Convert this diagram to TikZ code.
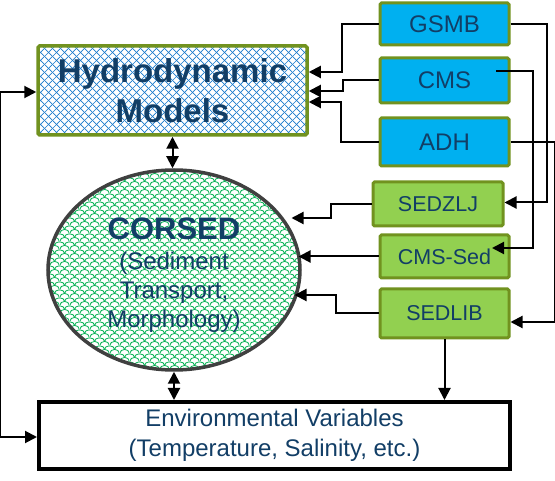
\documentclass[tikz,border=0pt]{standalone}
\usepackage{fontspec}
\setmainfont{Liberation Sans}
\usetikzlibrary{arrows.meta,patterns.meta,calc,backgrounds,shapes.geometric}
\definecolor{navy}{HTML}{123E66}
\definecolor{olivebd}{HTML}{71921F}
\definecolor{cyanfill}{HTML}{00B0F0}
\definecolor{greenfill}{HTML}{92D050}
\definecolor{hatchblue}{HTML}{1A7ACC}
\definecolor{scalegreen}{HTML}{00B050}
\definecolor{ellgray}{HTML}{404040}
\tikzdeclarepattern{
  name=scales, type=uncolored,
  bounding box={(0pt,0pt) and (10pt,8pt)},
  tile size={(10pt,8pt)},
  code={
    \draw[line width=0.9pt] (0pt,0pt) arc[start angle=180,end angle=0,x radius=5pt,y radius=4pt];
    \draw[line width=0.9pt] (-5pt,4pt) arc[start angle=180,end angle=0,x radius=5pt,y radius=4pt];
    \draw[line width=0.9pt] (5pt,4pt) arc[start angle=180,end angle=0,x radius=5pt,y radius=4pt];
  }
}
\tikzdeclarepattern{
  name=diamonds, type=uncolored,
  bounding box={(0pt,0pt) and (7.5pt,7.5pt)},
  tile size={(7.5pt,7.5pt)},
  code={
    \draw[line width=0.7pt] (-1pt,-1pt) -- (8.5pt,8.5pt);
    \draw[line width=0.7pt] (-1pt,8.5pt) -- (8.5pt,-1pt);
    \fill (3.75pt,3.75pt) circle[radius=0.7pt];
  }
}
\tikzset{
  hyd/.style={draw=olivebd, line width=3.5pt, rounded corners=1.5pt,
    pattern=diamonds, pattern color=hatchblue,
    minimum width=269pt, minimum height=89pt, inner sep=0pt, align=center,
    text=navy, font=\bfseries\fontsize{33}{40}\selectfont},
  bluebox/.style={draw=olivebd, fill=cyanfill, line width=3pt, rounded corners=1.5pt,
    minimum width=129pt, inner sep=0pt, text=navy, font=\fontsize{24}{28}\selectfont},
  greenbox/.style={draw=olivebd, fill=greenfill, line width=3pt, rounded corners=1.5pt,
    minimum width=129pt, inner sep=0pt, text=navy, font=\fontsize{21.5}{26}\selectfont},
  ellnode/.style={ellipse, draw=ellgray, line width=3.5pt,
    pattern=scales, pattern color=scalegreen,
    minimum width=252pt, minimum height=200pt, inner sep=0pt},
  elltxt/.style={inner sep=0pt, align=center, text=navy,
    font=\fontsize{24}{29}\selectfont},
  envbox/.style={draw=black, fill=white, line width=4pt, minimum width=471pt,
    minimum height=67pt, inner sep=0pt, align=center, text=navy,
    font=\fontsize{24}{30}\selectfont},
  conn/.style={line width=2pt, -{Triangle[length=12pt,width=12pt]}},
  dconn/.style={line width=2pt, {Triangle[length=12pt,width=12pt]}-{Triangle[length=12pt,width=12pt]}},
  plain/.style={line width=2pt}
}
\begin{document}
\begin{tikzpicture}[x=1pt,y=-1pt]
\fill[white] (0,0) rectangle (555,481);
\useasboundingbox (0,0) rectangle (555,481);

\node[hyd] (hydro) at (172.5,90.5) {Hydrodynamic\\Models};
\node[bluebox, minimum height=42pt] (gsmb) at (444.5,24) {GSMB};
\node[bluebox, minimum height=45pt] (cms) at (444.5,80.5) {CMS};
\node[bluebox, minimum height=48pt] (adh) at (444.5,142) {ADH};
\node[greenbox, minimum width=130pt, minimum height=44pt] (sedzlj) at (438,204) {SEDZLJ};
\node[greenbox, minimum height=43pt] (cmssed) at (444.5,256.5) {CMS-Sed};
\node[greenbox, minimum height=49pt] (sedlib) at (444.5,313.5) {SEDLIB};
\node[ellnode] (ell) at (174,270) {};
\node[elltxt] (elltext) at ($(ell.center)+(0,5)$) {{\bfseries\fontsize{31}{34}\selectfont CORSED}\\[1pt](Sediment\\Transport,\\Morphology)};
\node[envbox] (env) at (274.5,435.5) {Environmental Variables\\(Temperature, Salinity, etc.)};

\begin{scope}[on background layer]
\draw[plain] (gsmb.center) -- (sedlib.center);
\end{scope}
\draw[conn] (sedlib.south) -- (sedlib.south |- env.north);

\draw[dconn] (hydro.south) -- (hydro.south |- ell.north);
\draw[dconn] (ell.south) -- (ell.south |- env.north);
\draw[dconn] ($(hydro.west)+(0,1.5)$) -- ++(-36,0) |- ($(env.west)+(0,1.5)$);

\draw[conn] (gsmb.west) -- ++(-37,0) |- ($(hydro.east)+(0,-18.5)$);
\draw[conn] (cms.west) -- ++(-36,0) |- ($(hydro.east)+(0,0.5)$);
\draw[conn] (adh.west) -- ++(-38,0) |- ($(hydro.east)+(0,11.5)$);

\draw[conn] (gsmb.east) -- ++(36,0) |- ($(sedzlj.east)+(0,-1.5)$);
\draw[conn] ($(cms.center)+(51.5,-9.5)$) -- ++(37,0) |- ($(cmssed.center)+(47.5,-8.5)$);
\draw[conn] (adh.east) -- ++(44,0) |- ($(sedlib.east)+(0,8.5)$);

\draw[conn] (sedzlj.west) -- ++(-41,0) |- ($(sedzlj.west)+(-80,14)$);
\draw[conn] (cmssed.west) -- ($(cmssed.west)+(-80,0)$);
\draw[conn] (sedlib.west) -- ++(-43,0) |- ($(sedlib.west)+(-84,-18.5)$);
\end{tikzpicture}
\end{document}
